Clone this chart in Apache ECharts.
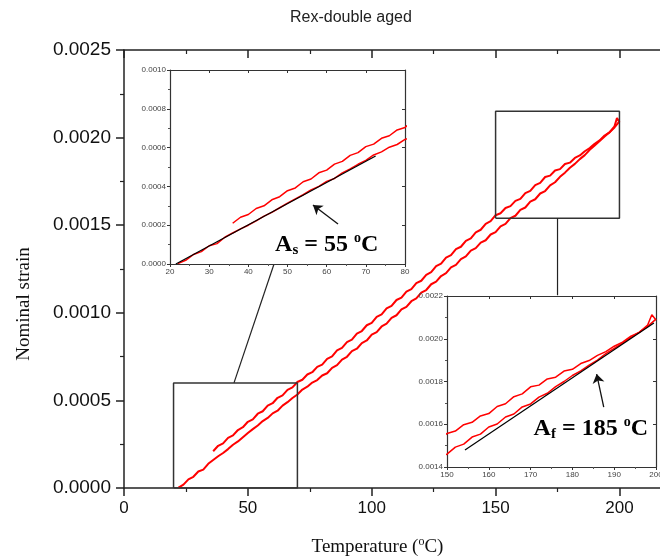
<!DOCTYPE html>
<html>
<head>
<meta charset="utf-8">
<script src="https://cdn.jsdelivr.net/npm/echarts@6/dist/echarts.min.js"></script>
<style>
  html, body { margin: 0; padding: 0; background: #fff; }
  #chart { width: 660px; height: 559px; }
</style>
</head>
<body>
<div id="chart"></div>
<script>
/* heating branch (lower curve) */
var heatT = [22,24,26,28,30,32,34,36,38,40,42,44,46,48,50,52,54,56,58,60,62,64,66,68,70,72,74,76,78,80,
  82,84,86,88,90,92,94,96,98,100,102,104,106,108,110,112,114,116,118,120,122,124,126,128,130,132,134,136,138,140,
  142,144,146,148,150,152,154,156,158,160,162,164,166,168,170,172,174,176,178,180,182,184,186,188,190,192,194,196,198,200];
var heatStrain = [0.000002,0.000019,0.000049,0.000064,0.000094,0.000105,0.000138,0.000160,0.000181,0.000200,
  0.000222,0.000247,0.000266,0.000290,0.000314,0.000336,0.000357,0.000382,0.000400,0.000426,
  0.000441,0.000470,0.000490,0.000514,0.000534,0.000562,0.000578,0.000602,0.000616,0.000642,
  0.000655,0.000686,0.000701,0.000733,0.000749,0.000781,0.000795,0.000827,0.000842,0.000875,
  0.000890,0.000922,0.000938,0.000971,0.000986,0.001019,0.001034,0.001066,0.001082,0.001115,
  0.001130,0.001163,0.001178,0.001210,0.001226,0.001259,0.001274,0.001306,0.001322,0.001355,
  0.001369,0.001401,0.001414,0.001447,0.001460,0.001493,0.001507,0.001540,0.001554,0.001587,
  0.001601,0.001634,0.001648,0.001681,0.001695,0.001727,0.001745,0.001776,0.001800,0.001828,
  0.001850,0.001877,0.001900,0.001930,0.001955,0.001980,0.002006,0.002031,0.002058,0.002092];

/* cooling branch (upper curve) */
var coolT = [36,38,40,42,44,46,48,50,52,54,56,58,60,62,64,66,68,70,72,74,76,78,80,
  82,84,86,88,90,92,94,96,98,100,102,104,106,108,110,112,114,116,118,120,122,124,126,128,130,132,134,136,138,140,
  142,144,146,148,150,152,154,156,158,160,162,164,166,168,170,172,174,176,178,180,182,184,186,188,190,192,194,196,198,199,200];
var coolStrain = [0.000210,0.000241,0.000255,0.000286,0.000300,0.000331,0.000347,0.000378,0.000392,0.000424,
  0.000438,0.000470,0.000484,0.000515,0.000529,0.000560,0.000574,0.000605,0.000618,0.000648,
  0.000661,0.000691,0.000704,0.000737,0.000751,0.000785,0.000800,0.000833,0.000847,0.000881,
  0.000896,0.000929,0.000943,0.000977,0.000991,0.001025,0.001040,0.001073,0.001087,0.001121,
  0.001135,0.001169,0.001183,0.001217,0.001232,0.001266,0.001281,0.001315,0.001329,0.001363,
  0.001377,0.001411,0.001425,0.001459,0.001474,0.001508,0.001523,0.001557,0.001568,0.001598,
  0.001609,0.001639,0.001650,0.001683,0.001696,0.001729,0.001742,0.001775,0.001783,0.001812,
  0.001820,0.001849,0.001857,0.001884,0.001898,0.001922,0.001940,0.001965,0.001984,0.002012,
  0.002030,0.002064,0.002112,0.002088];

/* tangent lines and arrows */
var asFitT = [21.5, 72.5];
var asFitStrain = [0, 0.000557];
var afFitT = [154.3, 199.5];
var afFitStrain = [0.00148, 0.002074];
var asArrowT = [62.9, 56.5];
var asArrowStrain = [0.000206, 0.000304];
var afArrowT = [187.5, 185.8];
var afArrowStrain = [0.00168, 0.001835];

/* zoom boxes on the main plot and their leader lines */
var box1T = [20, 70];
var box1Strain = [0, 0.0006];
var box2T = [150, 200];
var box2Strain = [0.00154, 0.00215];
var lead1T = [44.4, 60.6];
var lead1Strain = [0.0006, 0.00128];
var lead2T = [175, 175];
var lead2Strain = [0.00154, 0.0011];

/* annotation anchors (inset data units) */
var asTextPos = [60, 0.0001];
var afTextPos = [184.4, 0.00158];

/* axis ranges */
var mainX = [0, 220, 50];
var mainY = [0, 0.0025, 0.0005];
var in1X = [20, 80, 10];
var in1Y = [0, 0.001, 0.0002];
var in2X = [150, 200, 10];
var in2Y = [0.0014, 0.0022, 0.0002];

function pairs(xs, ys) {
  return xs.map(function (x, i) { return [x, ys[i]]; });
}
function boxPath(xs, ys) {
  return [[xs[0], ys[0]], [xs[1], ys[0]], [xs[1], ys[1]], [xs[0], ys[1]], [xs[0], ys[0]]];
}

var chart = echarts.init(document.getElementById('chart'));
var sans = 'Liberation Sans';
var serif = 'Liberation Serif';
var red = '#ff0000';

var richAnno = {
  b: { fontFamily: serif, fontWeight: 'bold', fontSize: 24, color: '#000', lineHeight: 26 },
  sub: { fontFamily: serif, fontWeight: 'bold', fontSize: 15, color: '#000', lineHeight: 12, verticalAlign: 'bottom' },
  sup: { fontFamily: serif, fontWeight: 'bold', fontSize: 14, color: '#000', lineHeight: 14, verticalAlign: 'top' }
};

function valueAxis(grid, pos, r, opts) {
  var ax = {
    type: 'value', gridIndex: grid, position: pos,
    min: r[0], max: r[1], interval: r[2],
    axisLine: { show: true, onZero: false, lineStyle: { color: '#222', width: 1.5 } },
    axisTick: { show: true, inside: false, length: 8, lineStyle: { color: '#222', width: 1.5 } },
    minorTick: { show: true, splitNumber: 2, length: 4, lineStyle: { color: '#222', width: 1.2 } },
    splitLine: { show: false },
    axisLabel: { show: false }
  };
  for (var k in opts) ax[k] = opts[k];
  return ax;
}

function smallLabel(fmt) {
  return { show: true, fontFamily: sans, fontSize: 8, color: '#444', margin: 4, formatter: fmt,
    showMaxLabel: true, showMinLabel: true };
}
function smallTick(inside) {
  return { show: true, inside: inside, length: 3, lineStyle: { color: '#333', width: 1 } };
}
function smallMinor() {
  return { show: true, splitNumber: 2, length: 2, lineStyle: { color: '#555', width: 1 } };
}
var thinLine = { show: true, onZero: false, lineStyle: { color: '#333', width: 1.2 } };
var fmt4 = function (v) { return v.toFixed(4); };

var option = {
  backgroundColor: '#fff',
  animation: false,
  title: {
    text: 'Rex-double aged', left: 285, top: 5,
    textStyle: { fontFamily: sans, fontSize: 16, fontWeight: 'normal', color: '#222' }
  },
  grid: [
    { left: 124, top: 50, width: 545, height: 438, show: false, outerBoundsMode: 'none' },
    { left: 170, top: 70, width: 235, height: 194, show: true, backgroundColor: '#fff', borderWidth: 0, z: 3,
      outerBoundsMode: 'none' },
    { left: 447, top: 296, width: 209, height: 171, show: true, backgroundColor: '#fff', borderWidth: 0, z: 3,
      outerBoundsMode: 'none' }
  ],
  xAxis: [
    valueAxis(0, 'bottom', mainX, {
      name: '{n|Temperature (}{s|o}{n|C)}', nameLocation: 'middle', nameGap: 48,
      nameTextStyle: { padding: [0, 38, 0, 0], rich: {
        n: { fontFamily: serif, fontSize: 19, color: '#111', lineHeight: 22 },
        s: { fontFamily: serif, fontSize: 12, color: '#111', lineHeight: 12, verticalAlign: 'top' } } },
      axisLabel: { show: true, fontFamily: sans, fontSize: 17, color: '#111', margin: 12, showMaxLabel: false }
    }),
    valueAxis(0, 'top', mainX, { axisTick: { show: true, inside: true, length: 8, lineStyle: { color: '#222', width: 1.5 } },
      minorTick: { show: true, splitNumber: 2, length: 4, lineStyle: { color: '#222', width: 1.2 } } }),
    { type: 'value', gridIndex: 1, position: 'bottom', min: in1X[0], max: in1X[1], interval: in1X[2],
      axisLine: thinLine, axisTick: smallTick(false), minorTick: smallMinor(), splitLine: { show: false },
      axisLabel: smallLabel(null), z: 4 },
    { type: 'value', gridIndex: 1, position: 'top', min: in1X[0], max: in1X[1], interval: in1X[2],
      axisLine: thinLine, axisTick: smallTick(true), minorTick: { show: false }, splitLine: { show: false },
      axisLabel: { show: false }, z: 4 },
    { type: 'value', gridIndex: 2, position: 'bottom', min: in2X[0], max: in2X[1], interval: in2X[2],
      axisLine: thinLine, axisTick: smallTick(false), minorTick: smallMinor(), splitLine: { show: false },
      axisLabel: smallLabel(null), z: 4 },
    { type: 'value', gridIndex: 2, position: 'top', min: in2X[0], max: in2X[1], interval: in2X[2],
      axisLine: thinLine, axisTick: smallTick(true), minorTick: { show: false }, splitLine: { show: false },
      axisLabel: { show: false }, z: 4 }
  ],
  yAxis: [
    valueAxis(0, 'left', mainY, {
      name: 'Nominal strain', nameLocation: 'middle', nameGap: 90,
      nameTextStyle: { fontFamily: serif, fontSize: 19, color: '#111', padding: [0, 70, 0, 0] },
      axisLabel: { show: true, fontFamily: sans, fontSize: 19, color: '#111', margin: 13, formatter: fmt4 }
    }),
    valueAxis(0, 'right', mainY, { axisTick: { show: true, inside: true, length: 8, lineStyle: { color: '#222', width: 1.5 } },
      minorTick: { show: true, splitNumber: 2, length: 4, lineStyle: { color: '#222', width: 1.2 } } }),
    { type: 'value', gridIndex: 1, position: 'left', min: in1Y[0], max: in1Y[1], interval: in1Y[2],
      axisLine: thinLine, axisTick: smallTick(false), minorTick: smallMinor(), splitLine: { show: false },
      axisLabel: smallLabel(fmt4), z: 4 },
    { type: 'value', gridIndex: 1, position: 'right', min: in1Y[0], max: in1Y[1], interval: in1Y[2],
      axisLine: thinLine, axisTick: smallTick(true), minorTick: { show: false }, splitLine: { show: false },
      axisLabel: { show: false }, z: 4 },
    { type: 'value', gridIndex: 2, position: 'left', min: in2Y[0], max: in2Y[1], interval: in2Y[2],
      axisLine: thinLine, axisTick: smallTick(false), minorTick: smallMinor(), splitLine: { show: false },
      axisLabel: smallLabel(fmt4), z: 4 },
    { type: 'value', gridIndex: 2, position: 'right', min: in2Y[0], max: in2Y[1], interval: in2Y[2],
      axisLine: thinLine, axisTick: smallTick(true), minorTick: { show: false }, splitLine: { show: false },
      axisLabel: { show: false }, z: 4 }
  ],
  series: [
    /* main plot */
    { type: 'line', xAxisIndex: 0, yAxisIndex: 0, data: pairs(heatT, heatStrain), showSymbol: false,
      lineStyle: { color: red, width: 2 }, z: 2 },
    { type: 'line', xAxisIndex: 0, yAxisIndex: 0, data: pairs(coolT, coolStrain), showSymbol: false,
      lineStyle: { color: red, width: 2 }, z: 2 },
    { type: 'line', xAxisIndex: 0, yAxisIndex: 0, data: boxPath(box1T, box1Strain), showSymbol: false,
      lineStyle: { color: '#333', width: 1.5 }, z: 2 },
    { type: 'line', xAxisIndex: 0, yAxisIndex: 0, data: boxPath(box2T, box2Strain), showSymbol: false,
      lineStyle: { color: '#333', width: 1.5 }, z: 2 },
    { type: 'line', xAxisIndex: 0, yAxisIndex: 0, data: pairs(lead1T, lead1Strain), showSymbol: false,
      lineStyle: { color: '#222', width: 1.2 }, z: 2 },
    { type: 'line', xAxisIndex: 0, yAxisIndex: 0, data: pairs(lead2T, lead2Strain), showSymbol: false,
      lineStyle: { color: '#222', width: 1.2 }, z: 2 },

    /* inset 1: start of reverse transformation */
    { type: 'line', xAxisIndex: 2, yAxisIndex: 2, data: pairs(heatT, heatStrain), showSymbol: false,
      lineStyle: { color: red, width: 1.5 }, z: 5 },
    { type: 'line', xAxisIndex: 2, yAxisIndex: 2, data: pairs(coolT, coolStrain), showSymbol: false,
      lineStyle: { color: red, width: 1.5 }, z: 5 },
    { type: 'line', xAxisIndex: 2, yAxisIndex: 2, data: pairs(asFitT, asFitStrain), showSymbol: false,
      lineStyle: { color: '#000', width: 1.2 }, z: 6,
      markLine: { silent: true, symbol: ['none', 'arrow'], symbolSize: 9, label: { show: false },
        lineStyle: { color: '#111', width: 1.3, type: 'solid' },
        data: [[{ coord: [asArrowT[0], asArrowStrain[0]] }, { coord: [asArrowT[1], asArrowStrain[1]] }]] } },
    { type: 'scatter', xAxisIndex: 2, yAxisIndex: 2, data: [asTextPos], symbol: 'circle', symbolSize: 1,
      itemStyle: { color: 'rgba(0,0,0,0)', opacity: 1 }, z: 7,
      label: { show: true, position: 'inside', color: '#000', opacity: 1, textBorderWidth: 0,
        formatter: '{b|A}{sub|s}{b| = 55 }{sup|o}{b|C}', rich: richAnno } },

    /* inset 2: end of reverse transformation */
    { type: 'line', xAxisIndex: 4, yAxisIndex: 4, data: pairs(heatT, heatStrain), showSymbol: false,
      lineStyle: { color: red, width: 1.5 }, z: 5 },
    { type: 'line', xAxisIndex: 4, yAxisIndex: 4, data: pairs(coolT, coolStrain), showSymbol: false,
      lineStyle: { color: red, width: 1.5 }, z: 5 },
    { type: 'line', xAxisIndex: 4, yAxisIndex: 4, data: pairs(afFitT, afFitStrain), showSymbol: false,
      lineStyle: { color: '#000', width: 1.2 }, z: 6,
      markLine: { silent: true, symbol: ['none', 'arrow'], symbolSize: 9, label: { show: false },
        lineStyle: { color: '#111', width: 1.3, type: 'solid' },
        data: [[{ coord: [afArrowT[0], afArrowStrain[0]] }, { coord: [afArrowT[1], afArrowStrain[1]] }]] } },
    { type: 'scatter', xAxisIndex: 4, yAxisIndex: 4, data: [afTextPos], symbol: 'circle', symbolSize: 1,
      itemStyle: { color: 'rgba(0,0,0,0)', opacity: 1 }, z: 7,
      label: { show: true, position: 'inside', color: '#000', opacity: 1, textBorderWidth: 0,
        formatter: '{b|A}{sub|f}{b| = 185 }{sup|o}{b|C}', rich: richAnno } }
  ]
};
chart.setOption(option);
</script>
</body>
</html>
